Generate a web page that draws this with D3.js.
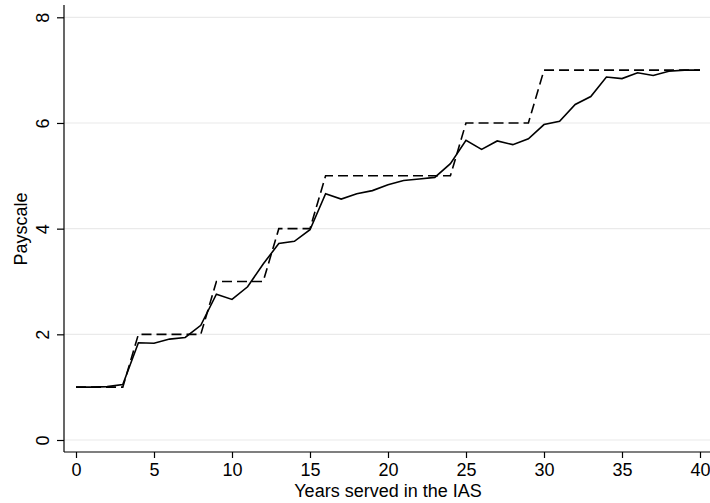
<!DOCTYPE html>
<html>
<head>
<meta charset="utf-8">
<script src="https://cdn.jsdelivr.net/npm/d3@7"></script>
<style>
  html, body { margin: 0; padding: 0; background: #fff; }
  svg { display: block; }
  text { font-family: "Liberation Sans", Arial, sans-serif; fill: #000; }
</style>
</head>
<body>
<svg id="chart" width="710" height="503"></svg>
<script>
// Data
const years = d3.range(0, 41);
const actualPay = [1.00, 1.00, 1.01, 1.05, 1.84, 1.83, 1.91, 1.94, 2.17, 2.76,
                   2.66, 2.90, 3.33, 3.72, 3.76, 3.98, 4.66, 4.56, 4.66, 4.72,
                   4.83, 4.91, 4.94, 4.97, 5.23, 5.67, 5.50, 5.66, 5.59, 5.70,
                   5.97, 6.03, 6.35, 6.50, 6.87, 6.84, 6.95, 6.90, 6.98, 7.00, 7.00];
const rulePay = [1, 1, 1, 1, 2, 2, 2, 2, 2, 3,
                 3, 3, 3, 4, 4, 4, 5, 5, 5, 5,
                 5, 5, 5, 5, 5, 6, 6, 6, 6, 6,
                 7, 7, 7, 7, 7, 7, 7, 7, 7, 7, 7];
const xTicks = [0, 5, 10, 15, 20, 25, 30, 35, 40];
const yTicks = [0, 2, 4, 6, 8];
const xTitle = "Years served in the IAS";
const yTitle = "Payscale";

const svg = d3.select("#chart");
const x = d3.scaleLinear().domain([0, 40]).range([76, 700]);
const y = d3.scaleLinear().domain([0, 8]).range([440, 17.3]);

const axisLeft = 64, axisBottom = 452, plotRight = 710, plotTop = 5;

// grid lines
svg.append("g").selectAll("line").data(yTicks).join("line")
  .attr("x1", axisLeft).attr("x2", plotRight)
  .attr("y1", d => y(d)).attr("y2", d => y(d))
  .attr("stroke", "#eaeaea").attr("stroke-width", 1.2);

// axes
const xAxis = d3.axisBottom(x).tickValues(xTicks).tickSize(6).tickPadding(4).tickFormat(d3.format("d"));
const gx = svg.append("g").attr("transform", `translate(0,${axisBottom})`).call(xAxis);
gx.select(".domain").remove();
gx.append("line").attr("x1", axisLeft).attr("x2", plotRight).attr("y1", 0).attr("y2", 0)
  .attr("stroke", "#000").attr("stroke-width", 1.2);
gx.selectAll(".tick line").attr("stroke", "#000").attr("stroke-width", 1.2);
gx.selectAll(".tick text").attr("font-size", 18).attr("font-family", "Liberation Sans, Arial, sans-serif")
  .attr("fill", "#000").attr("dy", "0.71em").attr("y", 11);

const yAxis = d3.axisLeft(y).tickValues(yTicks).tickSize(7).tickFormat(d3.format("d"));
const gy = svg.append("g").attr("transform", `translate(${axisLeft},0)`).call(yAxis);
gy.select(".domain").remove();
gy.append("line").attr("x1", 0).attr("x2", 0).attr("y1", plotTop).attr("y2", axisBottom)
  .attr("stroke", "#000").attr("stroke-width", 1.2);
gy.selectAll(".tick line").attr("stroke", "#000").attr("stroke-width", 1.2);
gy.selectAll(".tick text")
  .attr("font-size", 18).attr("font-family", "Liberation Sans, Arial, sans-serif")
  .attr("fill", "#000")
  .attr("x", null).attr("dy", null)
  .attr("text-anchor", "middle")
  .attr("transform", "translate(-15,0) rotate(-90)");

// lines
const lineGen = d3.line().x((d, i) => x(years[i])).y(d => y(d));
svg.append("path").datum(rulePay).attr("d", lineGen)
  .attr("fill", "none").attr("stroke", "#000").attr("stroke-width", 1.6)
  .attr("stroke-dasharray", "10,5");
svg.append("path").datum(actualPay).attr("d", lineGen)
  .attr("fill", "none").attr("stroke", "#000").attr("stroke-width", 1.6)
  .attr("stroke-linejoin", "miter");

// titles
svg.append("text").attr("x", 388).attr("y", 497).attr("text-anchor", "middle")
  .attr("font-size", 18).text(xTitle);
svg.append("text").attr("transform", `translate(27,229) rotate(-90)`)
  .attr("text-anchor", "middle").attr("font-size", 18).text(yTitle);
</script>
</body>
</html>
